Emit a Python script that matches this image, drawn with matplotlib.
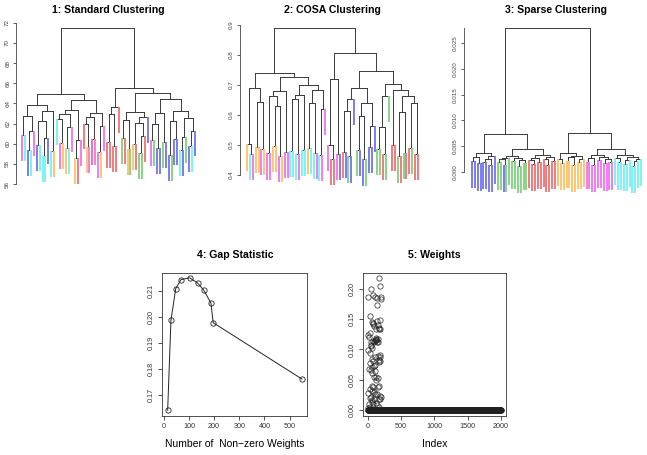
import matplotlib
matplotlib.use("Agg")
import matplotlib.pyplot as plt
import numpy as np

plt.rcParams['font.family'] = ['Liberation Sans', 'DejaVu Sans']

# class colours (R: 2 red, 3 green, 4 blue, 5 cyan, 6 magenta, orange)
class_colors = {'R': '#f27c7c', 'G': '#88d488', 'B': '#7c7cf0',
                'C': '#7cf2f2', 'M': '#f07cf0', 'O': '#ffc670'}

# leaf classes in dendrogram order
std_classes = list("MCBCMBCCCBCO" "CMOOCMORMROMRMMOM" "RRRRR" "GROGORGGRBMGBBGBBGBBCBGBCB")
cosa_classes = list("OCMOOMOMMO" "OMOMMCCCMC" "COCCMCMMMR" "RMBRBGBBGB" "BGBBBGGRGG" "RRGRGRRGRR")
sparse_classes = list("BBBBBBBBB" "GGBGGGGGGGG" "RRRRRRRRRR" "OOOOOOOOOO" "MMMMMMMMMM" "CCCCCCCCCC")

# merge height between neighbouring leaves (leaf i and i+1)
std_gaps = [60.9, 62.7, 59.4, 61.3, 63.84, 59.9, 62.2, 58.8, 60.6, 63.2, 59.3, 64.93,
            62.4, 60.1, 62.9, 59.6, 61.7, 63.3, 58.6, 60.4, 64.33, 62.0, 59.7, 62.6, 60.5, 63.0, 59.2, 61.8,
            71.45,
            60.2, 62.9, 59.8, 63.67,
            65.5,
            60.6, 62.3, 59.5, 63.1, 60.0, 62.1, 59.1, 60.8, 62.6, 65.0,
            60.4, 62.0, 59.6, 63.0, 60.2, 64.4, 58.9, 62.2, 60.5, 63.2, 59.4, 60.7, 62.5, 59.8, 61.3]

cosa_gaps = [0.502, 0.470, 0.689, 0.495, 0.645, 0.488, 0.741, 0.472, 0.665, 0.498,
             0.630, 0.465, 0.680, 0.476, 0.728, 0.480, 0.655, 0.470, 0.668, 0.485,
             0.700, 0.490, 0.640, 0.475, 0.683, 0.468, 0.620, 0.889, 0.500, 0.455,
             0.720, 0.470, 0.808, 0.478, 0.612, 0.462, 0.655, 0.690, 0.483, 0.598,
             0.452, 0.640, 0.495, 0.565, 0.748, 0.487, 0.560, 0.470, 0.663, 0.705,
             0.500, 0.685, 0.462, 0.610, 0.475, 0.662, 0.490, 0.640, 0.470]

sparse_gaps = [0.0021, 0.0028, 0.0016, 0.0036, 0.0019, 0.0025, 0.0013, 0.0030,
               0.00727,
               0.0018, 0.0024, 0.0014, 0.0027, 0.0031, 0.0020, 0.0026, 0.0012, 0.0023, 0.0017,
               0.0044,
               0.0022, 0.0015, 0.0027, 0.0019, 0.0032, 0.0024, 0.0013, 0.0029, 0.0020,
               0.0279,
               0.0025, 0.0017, 0.0037, 0.0021, 0.0028, 0.0014, 0.0031, 0.0019, 0.0024,
               0.0076,
               0.0019, 0.0026, 0.0013, 0.0033, 0.0022, 0.0029, 0.0016, 0.0024, 0.0018,
               0.0045,
               0.0027, 0.0018, 0.0032, 0.0015, 0.0023, 0.0029, 0.0012, 0.0021, 0.0025]

# gap statistic
n_nonzero = [15, 28, 47, 68, 102, 134, 158, 187, 196, 549]
gap_stat = [0.1640, 0.1986, 0.2108, 0.2143, 0.2150, 0.2130, 0.2103, 0.2053, 0.1977, 0.1760]

# weights: non-zero ones (index, value), everything else is 0
n_features = 2000
w_index = [162, 186, 39, 5, 78, 113, 137, 190, 199, 140, 38, 187, 64, 80, 88, 135, 1, 29, 15,
           163, 176, 168, 41, 49, 90, 114, 147, 138, 102, 125, 6, 25, 65, 52, 177, 185, 160,
           189, 54, 79, 30, 103, 66, 16, 40, 89, 127, 152, 115, 68, 75, 161, 158, 31, 7, 63,
           105, 139, 184, 196, 171, 180, 42, 87, 55, 17, 116, 77, 141, 28, 164, 8, 95, 120,
           145, 70, 150, 128, 100, 62, 110, 82, 118, 155, 170, 35, 58, 93]
w_value = [0.218, 0.204, 0.199, 0.186, 0.190, 0.187, 0.184, 0.183, 0.186, 0.174, 0.155, 0.148,
           0.146, 0.142, 0.139, 0.147, 0.123, 0.127, 0.120, 0.135, 0.134, 0.133, 0.113, 0.108,
           0.113, 0.119, 0.117, 0.113, 0.114, 0.116, 0.099, 0.095, 0.103, 0.105, 0.091, 0.088,
           0.083, 0.081, 0.085, 0.081, 0.077, 0.074, 0.071, 0.068, 0.066, 0.054, 0.055, 0.053,
           0.049, 0.040, 0.039, 0.040, 0.038, 0.035, 0.029, 0.031, 0.027, 0.026, 0.024, 0.021,
           0.019, 0.018, 0.021, 0.018, 0.014, 0.011, 0.012, 0.010, 0.008, 0.006, 0.005, 0.004,
           0.072, 0.118, 0.141, 0.143, 0.112, 0.134, 0.064, 0.062, 0.088, 0.114, 0.116, 0.090,
           0.080, 0.020, 0.017, 0.030]

W, H = 647, 455
fig = plt.figure(figsize=(W / 100, H / 100), dpi=100)


def px_axes(x0, y0, x1, y1):
    return fig.add_axes([x0 / W, 1 - y1 / H, (x1 - x0) / W, (y1 - y0) / H])


def px_lim(p0, v0, p1, v1, pa, pb):
    s = (v1 - v0) / (p1 - p0)
    return v0 + (pa - p0) * s, v0 + (pb - p0) * s


def draw_tree(ax, gaps, classes):
    gaps = np.asarray(gaps)
    hang = 0.2 * (gaps.max() - gaps.min())

    def build(lo, hi):
        if lo == hi:
            return lo + 1.0, None
        k = lo + int(np.argmax(gaps[lo:hi]))
        h = gaps[k]
        xs = []
        for a, b in ((lo, k), (k + 1, hi)):
            x, hc = build(a, b)
            if hc is None:
                ax.plot([x, x], [h, h - hang], color=class_colors[classes[a]], lw=1.4,
                        solid_capstyle='butt', zorder=3, clip_on=False)
            else:
                ax.plot([x, x], [h, hc], color='#3a3a3a', lw=0.7, zorder=2, clip_on=False)
            xs.append(x)
        ax.plot(xs, [h, h], color='#3a3a3a', lw=0.7, zorder=2, clip_on=False)
        return (xs[0] + xs[1]) / 2, h

    build(0, len(classes) - 1)


def style_tree_axis(ax, ticks, labels):
    for s in ['top', 'right', 'bottom']:
        ax.spines[s].set_visible(False)
    ax.spines['left'].set_linewidth(0.6)
    ax.spines['left'].set_color('#444444')
    ax.set_xticks([])
    ax.set_yticks(ticks)
    ax.set_yticklabels(labels, rotation=90, va='center')
    ax.tick_params(axis='y', length=2.4, width=0.6, pad=1.8, labelsize=4.5,
                   colors='#444444')


top_panels = [
    # box px, leaf x refs, y refs, gaps, classes, ticks, tick labels, bound top, title, title x
    ((16, 18, 205, 198), (22, 195), (184, 56, 22.7, 72), std_gaps, std_classes,
     list(range(56, 73, 2)), [str(v) for v in range(56, 73, 2)], 72,
     "1: Standard Clustering", 108),
    ((240, 18, 428, 198), (247, 418), (175, 0.4, 25, 0.9), cosa_gaps, cosa_classes,
     [0.4, 0.5, 0.6, 0.7, 0.8, 0.9], ["0.4", "0.5", "0.6", "0.7", "0.8", "0.9"], 0.9,
     "2: COSA Clustering", 332),
    ((464, 18, 647, 198), (472, 641), (171.7, 0.0, 43.3, 0.025), sparse_gaps, sparse_classes,
     [0.0, 0.005, 0.01, 0.015, 0.02, 0.025],
     ["0.000", "0.005", "0.010", "0.015", "0.020", "0.025"], 0.028,
     "3: Sparse Clustering", 556),
]

for box, xref, yref, gaps, classes, ticks, labels, btop, title, tx in top_panels:
    ax = px_axes(*box)
    draw_tree(ax, gaps, classes)
    ax.set_xlim(px_lim(xref[0], 1, xref[1], len(classes), box[0], box[2]))
    ax.set_ylim(px_lim(yref[0], yref[1], yref[2], yref[3], box[3], box[1]))
    style_tree_axis(ax, ticks, labels)
    ax.spines['left'].set_bounds(ticks[0], btop)
    fig.text(tx / W, 1 - 10 / H, title, ha='center', va='center',
             fontsize=7.6, fontweight='bold')


def style_box(ax):
    for s in ax.spines.values():
        s.set_linewidth(0.6)
        s.set_color('#333333')
    ax.tick_params(length=2.7, width=0.6, labelsize=5.2, colors='#333333')
    ax.tick_params(axis='y', pad=2.4)
    ax.tick_params(axis='x', pad=2.6)
    plt.setp(ax.get_yticklabels(), rotation=90, va='center')


# 4: gap statistic
box4 = (162.3, 272.5, 307.3, 415.5)
ax4 = px_axes(*box4)
ax4.plot(n_nonzero, gap_stat, color='#222222', lw=0.7, marker='o', ms=3.8,
         mfc='none', mec='#222222', mew=0.6)
ax4.margins(x=0.04, y=0.04)
ax4.set_xticks([0, 100, 200, 300, 400, 500])
ax4.set_yticks([0.17, 0.18, 0.19, 0.20, 0.21])
ax4.set_yticklabels(["0.17", "0.18", "0.19", "0.20", "0.21"])
style_box(ax4)
cx4 = (box4[0] + box4[2]) / 2
fig.text(cx4 / W, 1 - 255 / H, "4: Gap Statistic", ha='center', va='center',
         fontsize=7.6, fontweight='bold')
fig.text(cx4 / W, 1 - 444 / H, "Number of  Non\u2212zero Weights", ha='center',
         va='center', fontsize=7.5)

# 5: weights
weights = np.zeros(n_features)
weights[np.array(w_index) - 1] = w_value
idx = np.arange(1, n_features + 1)
box5 = (362.7, 272.5, 506, 415.5)
ax5 = px_axes(*box5)
ax5.plot(idx, weights, ls='none', marker='o', ms=3.8, mfc='none', mec='#222222', mew=0.5)
ax5.margins(x=0.04, y=0.04)
ax5.set_xticks([0, 500, 1000, 1500, 2000])
ax5.set_yticks([0.0, 0.05, 0.10, 0.15, 0.20])
ax5.set_yticklabels(["0.00", "0.05", "0.10", "0.15", "0.20"])
style_box(ax5)
cx5 = (box5[0] + box5[2]) / 2
fig.text(cx5 / W, 1 - 255 / H, "5: Weights", ha='center', va='center',
         fontsize=7.6, fontweight='bold')
fig.text(cx5 / W, 1 - 444 / H, "Index", ha='center', va='center', fontsize=7.5)

fig.savefig("out.png", dpi=100)
